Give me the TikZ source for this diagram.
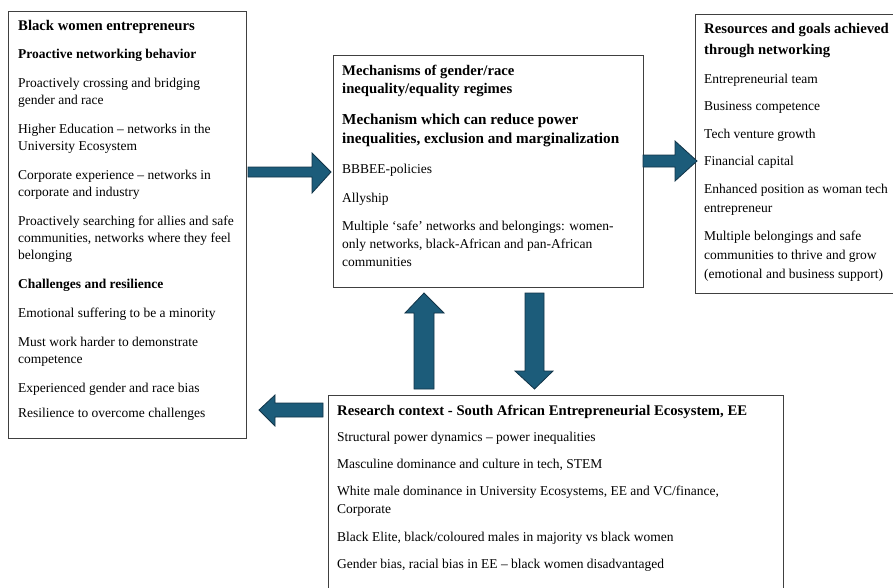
\documentclass[tikz,border=0pt]{standalone}
\usepackage{fontspec}
\setmainfont{Liberation Serif}
\definecolor{arrfill}{RGB}{28,92,122}
\definecolor{arrdraw}{RGB}{18,52,72}
\definecolor{boxline}{RGB}{64,64,64}
\tikzset{
  boxnode/.style={draw=boxline, line width=0.9pt, anchor=north west, inner sep=0pt, outer sep=0pt},
  body/.style={anchor=base west, inner sep=0pt, font=\fontsize{13.5}{16}\selectfont},
  hd/.style={anchor=base west, inner sep=0pt, font=\fontsize{13.5}{16}\selectfont\bfseries},
  bighd/.style={anchor=base west, inner sep=0pt, font=\fontsize{14.7}{18}\selectfont\bfseries},
  hugehd/.style={anchor=base west, inner sep=0pt, font=\fontsize{15.2}{19}\selectfont\bfseries},
  blockarrow/.style={fill=arrfill, draw=arrdraw, line width=0.8pt, line join=miter}
}
\begin{document}
\begin{tikzpicture}[x=1pt,y=-1pt]
\useasboundingbox (0,0) rectangle (893,587);
% boxes
\node[boxnode, minimum width=238pt, minimum height=427pt] (L) at (8,11) {};
\node[boxnode, minimum width=310pt, minimum height=232pt] (M) at (333,55) {};
\node[boxnode, minimum width=230pt, minimum height=279pt] (R) at (695,14) {};
\node[boxnode, minimum width=455pt, minimum height=220pt] (B) at (328,395) {};
% left box text
\node[bighd] (l1) at (18,30) {Black women entrepreneurs};
\node[hd] (l2) at (18,58) {Proactive networking behavior};
\node[body] (l3) at (18,87) {Proactively crossing and bridging};
\node[body] (l4) at (18,104) {gender and race};
\node[body] (l5) at (18,133) {Higher Education – networks in the};
\node[body] (l6) at (18,150) {University Ecosystem};
\node[body] (l7) at (18,179) {Corporate experience – networks in};
\node[body] (l8) at (18,196) {corporate and industry};
\node[body] (l9) at (18,225) {Proactively searching for allies and safe};
\node[body] (l10) at (18,242) {communities, networks where they feel};
\node[body] (l11) at (18,259) {belonging};
\node[hd] (l12) at (18,288) {Challenges and resilience};
\node[body] (l13) at (18,317) {Emotional suffering to be a minority};
\node[body] (l14) at (18,346) {Must work harder to demonstrate};
\node[body] (l15) at (18,363) {competence};
\node[body] (l16) at (18,392) {Experienced gender and race bias};
\node[body] (l17) at (18,417) {Resilience to overcome challenges};
% middle box text
\node[bighd] (m1) at (342,75) {Mechanisms of gender/race};
\node[bighd] (m2) at (342,93) {inequality/equality regimes};
\node[hugehd] (m3) at (342,124) {Mechanism which can reduce power};
\node[hugehd] (m4) at (342,143) {inequalities, exclusion and marginalization};
\node[body] (m5) at (342,173) {BBBEE-policies};
\node[body] (m6) at (342,202) {Allyship};
\node[body] (m7) at (342,230) {Multiple ‘safe’ networks and belongings: women-};
\node[body] (m8) at (342,248) {only networks, black-African and pan-African};
\node[body] (m9) at (342,266) {communities};
% right box text
\node[bighd] (r1) at (704,33) {Resources and goals achieved};
\node[bighd] (r2) at (704,54) {through networking};
\node[body] (r3) at (704,83) {Entrepreneurial team};
\node[body] (r4) at (704,110) {Business competence};
\node[body] (r5) at (704,138) {Tech venture growth};
\node[body] (r6) at (704,165) {Financial capital};
\node[body] (r7) at (704,193) {Enhanced position as woman tech};
\node[body] (r8) at (704,212) {entrepreneur};
\node[body] (r9) at (704,240) {Multiple belongings and safe};
\node[body] (r10) at (704,259) {communities to thrive and grow};
\node[body] (r11) at (704,278) {(emotional and business support)};
% bottom box text
\node[bighd] (b1) at (337,415) {Research context - South African Entrepreneurial Ecosystem, EE};
\node[body] (b2) at (337,441) {Structural power dynamics – power inequalities};
\node[body] (b3) at (337,468) {Masculine dominance and culture in tech, STEM};
\node[body] (b4) at (337,495) {White male dominance in University Ecosystems, EE and VC/finance,};
\node[body] (b5) at (337,513) {Corporate};
\node[body] (b6) at (337,541) {Black Elite, black/coloured males in majority vs black women};
\node[body] (b7) at (337,568) {Gender bias, racial bias in EE – black women disadvantaged};
% block arrows
\draw[blockarrow] (248,167) -- (312,167) -- (312,153) -- (331,172) -- (312,193) -- (312,177) -- (248,177) -- cycle;
\draw[blockarrow] (643,155) -- (675,155) -- (675,141) -- (697,161) -- (675,181) -- (675,167) -- (643,167) -- cycle;
\draw[blockarrow] (414,389) -- (414,313) -- (405,313) -- (424,293) -- (444,313) -- (434,313) -- (434,389) -- cycle;
\draw[blockarrow] (525,293) -- (544,293) -- (544,371) -- (553,371) -- (534.5,389) -- (515,371) -- (525,371) -- cycle;
\draw[blockarrow] (323,403) -- (275,403) -- (275,395) -- (259,410) -- (275,426) -- (275,417) -- (323,417) -- cycle;
\end{tikzpicture}
\end{document}
